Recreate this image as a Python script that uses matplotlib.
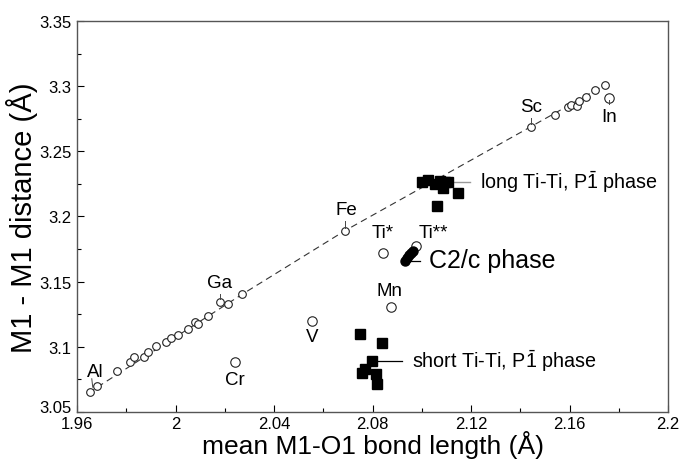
import matplotlib
matplotlib.use('Agg')
import matplotlib.pyplot as plt
from matplotlib.ticker import MultipleLocator

plt.rcParams['font.family'] = ['Liberation Sans', 'DejaVu Sans']
plt.rcParams['mathtext.fontset'] = 'custom'
plt.rcParams['mathtext.rm'] = 'Liberation Sans'

# open circles lying on the trend line
line_x = [1.9652, 1.9680, 1.9761, 1.9815, 1.9831, 1.9872, 1.9890, 1.9921, 1.9961,
          1.9980, 2.0011, 2.0052, 2.0079, 2.0093, 2.0133, 2.0182, 2.0212, 2.0270,
          2.0688, 2.1443, 2.1542, 2.1592, 2.1608, 2.1631, 2.1637, 2.1667, 2.1704, 2.1745]
line_y = [3.0655, 3.0696, 3.0816, 3.0880, 3.0919, 3.0919, 3.0962, 3.1008, 3.1034,
          3.1067, 3.1090, 3.1136, 3.1188, 3.1175, 3.1234, 3.1341, 3.1328, 3.1402,
          3.1891, 3.2689, 3.2779, 3.2842, 3.2855, 3.2845, 3.2888, 3.2914, 3.2973, 3.3009]

# open circles off the line: Cr, V, Ti*, Ti**, Mn, In
off_x = [2.0241, 2.0553, 2.0844, 2.0976, 2.0874, 2.1761]
off_y = [3.0885, 3.1200, 3.1720, 3.1776, 3.1307, 3.2907]

# C2/c phase (filled circles)
c2c_x = [2.0932, 2.0940, 2.0948, 2.0956, 2.0964]
c2c_y = [3.1658, 3.1681, 3.1704, 3.1720, 3.1735]

# long Ti-Ti, P-1 phase
long_x = [2.0999, 2.1026, 2.1054, 2.1074, 2.1094, 2.1087, 2.1108, 2.1148, 2.1063]
long_y = [3.2262, 3.2282, 3.2249, 3.2270, 3.2267, 3.2216, 3.2262, 3.2180, 3.2083]

# short Ti-Ti, P-1 phase
short_x = [2.0749, 2.0840, 2.0796, 2.0756, 2.0770, 2.0814, 2.0819]
short_y = [3.1098, 3.1029, 3.0893, 3.0799, 3.0830, 3.0791, 3.0714]

# dashed trend line vertices
trend_x = [1.9645, 2.0270, 2.0688, 2.1443, 2.1750]
trend_y = [3.0645, 3.1402, 3.1891, 3.2689, 3.3015]

# element labels: text, x, y
elem = ['Al', 'Cr', 'V', 'Ga', 'Fe', 'Ti*', 'Ti**', 'Mn', 'Sc', 'In']
elem_x = [1.9673, 2.0241, 2.0553, 2.0180, 2.0692, 2.0841, 2.1047, 2.0871, 2.1443, 2.1761]
elem_y = [3.0813, 3.0753, 3.1080, 3.1490, 3.2052, 3.1878, 3.1878, 3.1430, 3.2845, 3.2769]

fig = plt.figure(figsize=(6.82, 4.60), dpi=100)
ax = fig.add_axes([0.1129, 0.1022, 0.8666, 0.8500])

ax.plot(trend_x, trend_y, color='#333333', lw=0.8, dashes=(6, 4), zorder=1)
ax.plot(line_x, line_y, 'o', mfc='white', mec='#222222', mew=0.8, ms=5.5, zorder=2)
ax.plot(off_x, off_y, 'o', mfc='white', mec='#222222', mew=0.8, ms=6.8, zorder=2)
ax.plot(c2c_x, c2c_y, 'o', color='black', ms=6.5, zorder=3)
ax.plot(long_x, long_y, 's', color='black', ms=7, zorder=3)
ax.plot(short_x, short_y, 's', color='black', ms=7, zorder=3)

for t, x, y in zip(elem, elem_x, elem_y):
    ax.text(x, y, t, fontsize=13.5, ha='center', va='center', zorder=4)

# small connector strokes from labels to points
ax.plot([1.9660, 1.9664], [3.0755, 3.0690], color='#444444', lw=0.7)
ax.plot([2.0690, 2.0690], [3.1962, 3.1915], color='#444444', lw=0.7)
ax.plot([2.0182, 2.0182], [3.1405, 3.1365], color='#444444', lw=0.7)
ax.plot([2.1443, 2.1443], [3.2755, 3.2712], color='#444444', lw=0.7)
ax.plot([2.1761, 2.1761], [3.2860, 3.2890], color='#444444', lw=0.7)

ax.plot([2.1121, 2.1196], [3.2267, 3.2267], color='#999999', lw=1.0)
ax.text(2.1236, 3.2275, r'long Ti-Ti, P$\bar{\mathrm{1}}$ phase', fontsize=14.2, va='center')
ax.plot([2.0810, 2.0921], [3.0888, 3.0888], color='black', lw=0.9)
ax.text(2.0959, 3.0900, r'short Ti-Ti, P$\bar{\mathrm{1}}$ phase', fontsize=14.2, va='center')
ax.plot([2.0952, 2.0993], [3.1660, 3.1660], color='black', lw=0.9)
ax.text(2.1030, 3.1668, 'C2/c phase', fontsize=18, va='center')

ax.set_xlim(1.96, 2.2)
ax.set_ylim(3.05, 3.35)
ax.xaxis.set_minor_locator(MultipleLocator(0.02))
ax.yaxis.set_minor_locator(MultipleLocator(0.025))
ax.set_xticks([1.96, 2.0, 2.04, 2.08, 2.12, 2.16, 2.2])
ax.set_xticklabels(['1.96', '2', '2.04', '2.08', '2.12', '2.16', '2.2'])
ax.set_yticks([3.05, 3.1, 3.15, 3.2, 3.25, 3.3, 3.35])
ax.set_yticklabels(['3.05', '3.1', '3.15', '3.2', '3.25', '3.3', '3.35'])
ax.tick_params(which='both', direction='in', top=False, right=False, labelsize=12)
ax.tick_params(axis='x', pad=3)
ax.tick_params(axis='y', pad=4)
ax.tick_params(which='major', length=5, width=0.8)
ax.tick_params(which='minor', length=3, width=0.8)
# lift the bottom y label a little so it clears the first x label
ax.yaxis.get_major_ticks()[0].label1.set_verticalalignment('baseline')
for s in ax.spines.values():
    s.set_color('#555555')
    s.set_linewidth(1.0)

ax.set_xlabel('mean M1-O1 bond length (Å)', fontsize=19, labelpad=-1)
ax.set_ylabel('M1 - M1 distance (Å)', fontsize=21, labelpad=1)

fig.savefig('out.png', dpi=100)
